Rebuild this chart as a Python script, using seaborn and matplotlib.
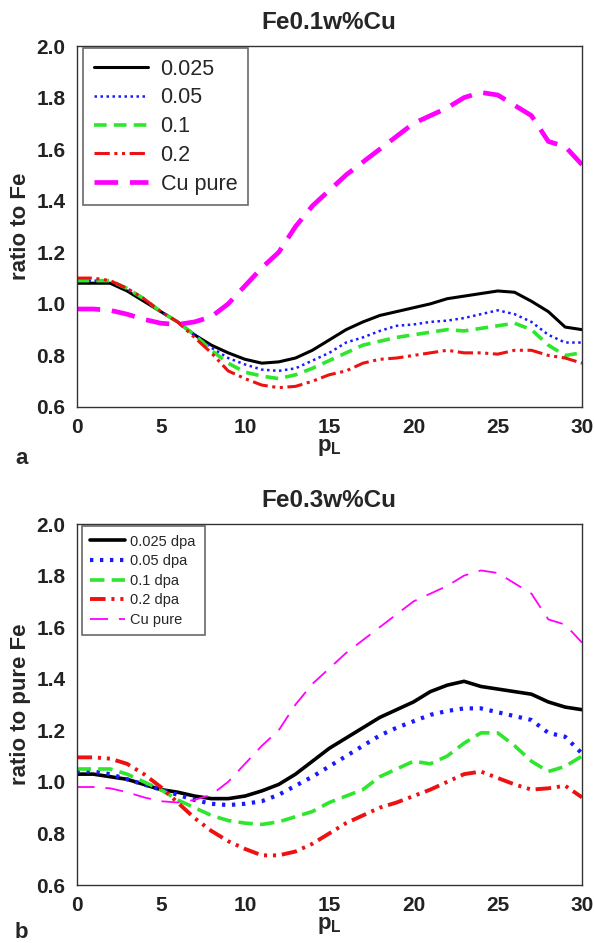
import seaborn as sns
import pandas as pd
import numpy as np
import matplotlib
matplotlib.use("Agg")
import matplotlib.pyplot as plt

# p_L positions
p_l = list(range(0, 31))

# panel a: Fe0.1w%Cu
a_025 = [1.08, 1.08, 1.08, 1.05, 1.01, 0.97, 0.93, 0.88, 0.84, 0.81, 0.785, 0.77, 0.775, 0.79, 0.82, 0.86,
         0.90, 0.93, 0.955, 0.97, 0.985, 1.00, 1.02, 1.03, 1.04, 1.05, 1.045, 1.01, 0.97, 0.91, 0.90]
a_05 = [1.09, 1.09, 1.09, 1.06, 1.02, 0.97, 0.93, 0.88, 0.83, 0.79, 0.765, 0.745, 0.74, 0.75, 0.78, 0.81,
        0.85, 0.87, 0.895, 0.915, 0.92, 0.93, 0.935, 0.945, 0.96, 0.975, 0.96, 0.93, 0.88, 0.85, 0.85]
a_1 = [1.09, 1.09, 1.09, 1.06, 1.02, 0.97, 0.93, 0.88, 0.82, 0.77, 0.735, 0.72, 0.71, 0.725, 0.75, 0.78,
       0.81, 0.84, 0.855, 0.87, 0.88, 0.89, 0.90, 0.895, 0.905, 0.915, 0.925, 0.90, 0.84, 0.80, 0.81]
a_2 = [1.10, 1.10, 1.09, 1.06, 1.02, 0.97, 0.93, 0.87, 0.81, 0.74, 0.71, 0.685, 0.675, 0.68, 0.70, 0.725,
       0.74, 0.77, 0.785, 0.79, 0.80, 0.81, 0.82, 0.81, 0.81, 0.805, 0.82, 0.82, 0.80, 0.79, 0.77]

# pure Cu reference (same in both panels)
cu_pure = [0.98, 0.98, 0.975, 0.96, 0.94, 0.925, 0.92, 0.93, 0.95, 1.00, 1.07, 1.14, 1.20, 1.30, 1.38, 1.44,
           1.50, 1.55, 1.60, 1.65, 1.70, 1.73, 1.76, 1.80, 1.82, 1.81, 1.77, 1.73, 1.63, 1.61, 1.54]

# panel b: Fe0.3w%Cu
b_025 = [1.03, 1.03, 1.02, 1.01, 0.99, 0.97, 0.96, 0.945, 0.935, 0.935, 0.945, 0.965, 0.99, 1.03, 1.08, 1.13,
         1.17, 1.21, 1.25, 1.28, 1.31, 1.35, 1.375, 1.39, 1.37, 1.36, 1.35, 1.34, 1.31, 1.29, 1.28]
b_05 = [1.04, 1.04, 1.03, 1.01, 0.99, 0.97, 0.95, 0.93, 0.915, 0.91, 0.915, 0.925, 0.95, 0.985, 1.02, 1.06,
        1.10, 1.14, 1.18, 1.21, 1.235, 1.26, 1.275, 1.285, 1.285, 1.27, 1.255, 1.24, 1.19, 1.175, 1.11]
b_1 = [1.05, 1.05, 1.05, 1.03, 1.00, 0.97, 0.93, 0.90, 0.87, 0.85, 0.84, 0.835, 0.845, 0.865, 0.885, 0.92,
       0.945, 0.97, 1.02, 1.05, 1.08, 1.07, 1.10, 1.15, 1.19, 1.19, 1.14, 1.08, 1.04, 1.06, 1.10]
b_2 = [1.095, 1.095, 1.09, 1.07, 1.03, 0.98, 0.92, 0.86, 0.81, 0.77, 0.74, 0.715, 0.715, 0.73, 0.76, 0.80,
       0.84, 0.87, 0.90, 0.92, 0.945, 0.97, 1.00, 1.03, 1.04, 1.015, 0.99, 0.97, 0.975, 0.985, 0.94]

labels_a = ['0.025', '0.05', '0.1', '0.2', 'Cu pure']
labels_b = ['0.025 dpa', '0.05 dpa', '0.1 dpa', '0.2 dpa', 'Cu pure']
colors = ['black', '#1a1aff', '#2ee62e', '#ee1111', '#ff00ff']

styles_a = [('-', 2.2), ((0, (1, 1.4)), 1.8), ((0, (3.5, 2)), 2.6),
            ((0, (5, 1.5, 1, 1.5, 1, 1.5)), 2.2), ((0, (5, 2.5)), 3.4)]
styles_b = [('-', 2.6), ((0, (0.8, 1.6)), 3.0), ((0, (4, 2)), 2.6),
            ((0, (4, 1.5, 0.8, 1.5, 0.8, 1.5)), 2.8), ((0, (10, 6)), 1.3)]


def draw_panel(ax, series, labels, styles, title, ylabel, legend_size, legend_kw):
    for vals, lab, col, (ls, lw) in zip(series, labels, colors, styles):
        sns.lineplot(x=p_l, y=vals, ax=ax, color=col, linestyle=ls, lw=lw, label=lab)

    ax.set_xlim(0, 30)
    ax.set_ylim(0.6, 2.0)
    ax.set_xticks([0, 5, 10, 15, 20, 25, 30])
    ax.set_yticks([0.6, 0.8, 1.0, 1.2, 1.4, 1.6, 1.8, 2.0])
    ax.set_yticklabels(['0.6', '0.8', '1.0', '1.2', '1.4', '1.6', '1.8', '2.0'])
    ax.tick_params(direction='out', length=5, width=1, labelsize=15, pad=3,
                   top=False, right=False, colors='#222222')
    for t in ax.get_xticklabels() + ax.get_yticklabels():
        t.set_fontweight('bold')
    for s in ax.spines.values():
        s.set_visible(True)
        s.set_color('#333333')
        s.set_linewidth(1.0)

    ax.set_title(title, fontsize=17.5, fontweight='bold', pad=12)
    ax.set_ylabel(ylabel, fontsize=16, fontweight='bold', labelpad=4)
    ax.set_xlabel(r'$\mathbf{p_L}$', fontsize=16, labelpad=0)

    leg = ax.legend(loc='upper left', fontsize=legend_size, frameon=True, fancybox=False,
                    borderaxespad=0, **legend_kw)
    leg.get_frame().set_edgecolor('#444444')
    leg.get_frame().set_linewidth(1.2)


def main():
    sns.set_style('white')
    plt.rcParams['font.family'] = ['Liberation Sans', 'DejaVu Sans']
    plt.rcParams['mathtext.fontset'] = 'custom'
    plt.rcParams['mathtext.bf'] = 'Liberation Sans:bold'
    plt.rcParams['mathtext.rm'] = 'Liberation Sans'

    fig = plt.figure(figsize=(5.94, 9.43), dpi=100)
    ax_a = fig.add_axes([0.1288, 0.5684, 0.851, 0.3828])
    ax_b = fig.add_axes([0.1288, 0.0615, 0.851, 0.3828])

    draw_panel(ax_a, [a_025, a_05, a_1, a_2, cu_pure], labels_a, styles_a,
               'Fe0.1w%Cu', 'ratio to Fe', 15.5,
               dict(bbox_to_anchor=(0.013, 0.995), labelspacing=0.36, handlelength=2.5,
                    handletextpad=0.6, borderpad=0.5))
    draw_panel(ax_b, [b_025, b_05, b_1, b_2, cu_pure], labels_b, styles_b,
               'Fe0.3w%Cu', 'ratio to pure Fe', 10.5,
               dict(bbox_to_anchor=(0.010, 0.995), labelspacing=0.38, handlelength=2.4,
                    handletextpad=0.35, borderpad=0.6))

    fig.text(0.036, 1 - 458 / 943, 'a', fontsize=16, fontweight='bold', ha='center', va='center')
    fig.text(0.036, 1 - 932 / 943, 'b', fontsize=16, fontweight='bold', ha='center', va='center')

    fig.savefig('out.png', dpi=100, facecolor='white')
    plt.close(fig)


if __name__ == '__main__':
    main()
